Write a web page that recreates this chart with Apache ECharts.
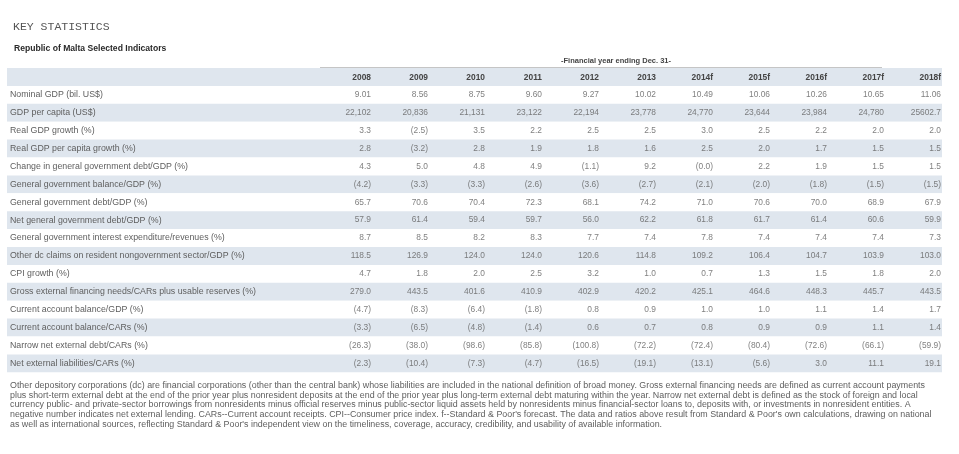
<!DOCTYPE html>
<html>
<head>
<meta charset="utf-8">
<title>Key statistics</title>
<script src="https://cdn.jsdelivr.net/npm/echarts@6/dist/echarts.min.js"></script>
<style>
  html, body { margin: 0; padding: 0; background: #fff; }
  #chart-root { width: 959px; height: 454px; }
</style>
</head>
<body>
<div id="chart-root"></div>
<script>
// column headers (financial year ending Dec. 31; f = forecast)
const years = ['2008', '2009', '2010', '2011', '2012', '2013', '2014f', '2015f', '2016f', '2017f', '2018f'];

const rowLabels = [
  'Nominal GDP (bil. US$)',
  'GDP per capita (US$)',
  'Real GDP growth (%)',
  'Real GDP per capita growth (%)',
  'Change in general government debt/GDP (%)',
  'General government balance/GDP (%)',
  'General government debt/GDP (%)',
  'Net general government debt/GDP (%)',
  'General government interest expenditure/revenues (%)',
  'Other dc claims on resident nongovernment sector/GDP (%)',
  'CPI growth (%)',
  'Gross external financing needs/CARs plus usable reserves (%)',
  'Current account balance/GDP (%)',
  'Current account balance/CARs (%)',
  'Narrow net external debt/CARs (%)',
  'Net external liabilities/CARs (%)'
];

const nominalGdp = [9.01, 8.56, 8.75, 9.60, 9.27, 10.02, 10.49, 10.06, 10.26, 10.65, 11.06];
const gdpPerCapita = [22102, 20836, 21131, 23122, 22194, 23778, 24770, 23644, 23984, 24780, 25602.7];
const realGdpGrowth = [3.3, -2.5, 3.5, 2.2, 2.5, 2.5, 3.0, 2.5, 2.2, 2.0, 2.0];
const realGdpPcGrowth = [2.8, -3.2, 2.8, 1.9, 1.8, 1.6, 2.5, 2.0, 1.7, 1.5, 1.5];
const changeGgDebt = [4.3, 5.0, 4.8, 4.9, -1.1, 9.2, -0.0, 2.2, 1.9, 1.5, 1.5];
const ggBalance = [-4.2, -3.3, -3.3, -2.6, -3.6, -2.7, -2.1, -2.0, -1.8, -1.5, -1.5];
const ggDebt = [65.7, 70.6, 70.4, 72.3, 68.1, 74.2, 71.0, 70.6, 70.0, 68.9, 67.9];
const netGgDebt = [57.9, 61.4, 59.4, 59.7, 56.0, 62.2, 61.8, 61.7, 61.4, 60.6, 59.9];
const ggInterest = [8.7, 8.5, 8.2, 8.3, 7.7, 7.4, 7.8, 7.4, 7.4, 7.4, 7.3];
const otherDcClaims = [118.5, 126.9, 124.0, 124.0, 120.6, 114.8, 109.2, 106.4, 104.7, 103.9, 103.0];
const cpiGrowth = [4.7, 1.8, 2.0, 2.5, 3.2, 1.0, 0.7, 1.3, 1.5, 1.8, 2.0];
const grossExtFinancing = [279.0, 443.5, 401.6, 410.9, 402.9, 420.2, 425.1, 464.6, 448.3, 445.7, 443.5];
const caBalanceGdp = [-4.7, -8.3, -6.4, -1.8, 0.8, 0.9, 1.0, 1.0, 1.1, 1.4, 1.7];
const caBalanceCars = [-3.3, -6.5, -4.8, -1.4, 0.6, 0.7, 0.8, 0.9, 0.9, 1.1, 1.4];
const narrowNetExtDebt = [-26.3, -38.0, -98.6, -85.8, -100.8, -72.2, -72.4, -80.4, -72.6, -66.1, -59.9];
const netExtLiabilities = [-2.3, -10.4, -7.3, -4.7, -16.5, -19.1, -13.1, -5.6, 3.0, 11.1, 19.1];

const rows = [
  nominalGdp, gdpPerCapita, realGdpGrowth, realGdpPcGrowth, changeGgDebt, ggBalance,
  ggDebt, netGgDebt, ggInterest, otherDcClaims, cpiGrowth, grossExtFinancing,
  caBalanceGdp, caBalanceCars, narrowNetExtDebt, netExtLiabilities
];
const rowDecimals = [2, 0, 1, 1, 1, 1, 1, 1, 1, 1, 1, 1, 1, 1, 1, 1];

const footnote = [
  'Other depository corporations (dc) are financial corporations (other than the central bank) whose liabilities are included in the national definition of broad money. Gross external financing needs are defined as current account payments',
  'plus short-term external debt at the end of the prior year plus nonresident deposits at the end of the prior year plus long-term external debt maturing within the year. Narrow net external debt is defined as the stock of foreign and local',
  'currency public- and private-sector borrowings from nonresidents minus official reserves minus public-sector liquid assets held by nonresidents minus financial-sector loans to, deposits with, or investments in nonresident entities. A',
  'negative number indicates net external lending. CARs--Current account receipts. CPI--Consumer price index. f--Standard & Poor\'s forecast. The data and ratios above result from Standard & Poor\'s own calculations, drawing on national',
  'as well as international sources, reflecting Standard & Poor\'s independent view on the timeliness, coverage, accuracy, credibility, and usability of available information.'
];

function fmt(v, dec) {
  const neg = v < 0 || Object.is(v, -0);
  const a = Math.abs(v);
  let s;
  if (dec === 0) {
    s = Number.isInteger(a) ? a.toLocaleString('en-US') : String(a);
  } else {
    s = a.toFixed(dec);
  }
  return neg ? '(' + s + ')' : s;
}

const cells = [];
rows.forEach(function (vals, r) {
  vals.forEach(function (v, c) {
    cells.push([c, r, v, fmt(v, rowDecimals[r])]);
  });
});

const font = '"Liberation Sans", Arial, sans-serif';
const rowH = 17.9;
const tableTop = 68;
const root = document.getElementById('chart-root');
const chart = echarts.init(root, null, { renderer: 'canvas' });

chart.setOption({
  animation: false,
  backgroundColor: '#ffffff',
  textStyle: { fontFamily: font },
  title: [
    { text: 'KEY STATISTICS', left: 8, top: 16,
      textStyle: { fontFamily: '"Liberation Mono", "DejaVu Sans Mono", monospace', fontSize: 11.5, fontWeight: 'normal', color: '#555' } },
    { text: 'Republic of Malta Selected Indicators', left: 9, top: 39,
      textStyle: { fontFamily: font, fontSize: 8.6, fontWeight: 'bold', color: '#2a2a2a' } }
  ],
  grid: [
    { left: 7, right: 17, top: tableTop, height: rowH * 17 },
    { left: 371, right: 18, top: tableTop + rowH, height: rowH * 16 }
  ],
  xAxis: [
    { gridIndex: 0, type: 'value', show: false, min: 0, max: 1 },
    { gridIndex: 1, type: 'category', data: years, boundaryGap: false, position: 'top',
      axisLine: { show: false }, axisTick: { show: false }, splitLine: { show: false },
      axisLabel: { align: 'right', margin: 4.5, fontSize: 8.4, fontWeight: 'bold', color: '#444', interval: 0 } }
  ],
  yAxis: [
    { gridIndex: 0, type: 'category', inverse: true, data: [''].concat(rowLabels),
      axisLine: { show: false }, axisTick: { show: false },
      axisLabel: { inside: true, margin: 3, fontSize: 8.8, color: '#5e5e5e', interval: 0 },
      splitArea: { show: true, areaStyle: { color: ['#dfe6ee', '#ffffff'] } } },
    { gridIndex: 1, type: 'category', inverse: true, data: rowLabels, show: false }
  ],
  series: [
    {
      type: 'scatter', xAxisIndex: 1, yAxisIndex: 1, symbolSize: 0, silent: true,
      data: cells,
      encode: { x: 0, y: 1 },
      label: {
        show: true, position: 'left', distance: 0,
        fontSize: 8.4, color: '#606060',
        formatter: function (p) { return p.data[3]; }
      }
    }
  ],
  graphic: [
    { type: 'line', shape: { x1: 320, y1: tableTop, x2: 882, y2: tableTop },
      style: { stroke: '#8a8a8a', lineWidth: 1 } },
    { type: 'text', x: 616, y: 61,
      style: { text: '-Financial year ending Dec. 31-', fontFamily: font, fontSize: 7.5, fontWeight: 'bold',
        fill: '#444', align: 'center', verticalAlign: 'middle' } },
    { type: 'text', x: 10, y: 381,
      style: { text: footnote.join('\n'), fontFamily: font, fontSize: 8.9, lineHeight: 9.6,
        fill: '#5e5e5e', align: 'left', verticalAlign: 'top' } }
  ]
});

window.addEventListener('resize', function () { chart.resize(); });
</script>
</body>
</html>
